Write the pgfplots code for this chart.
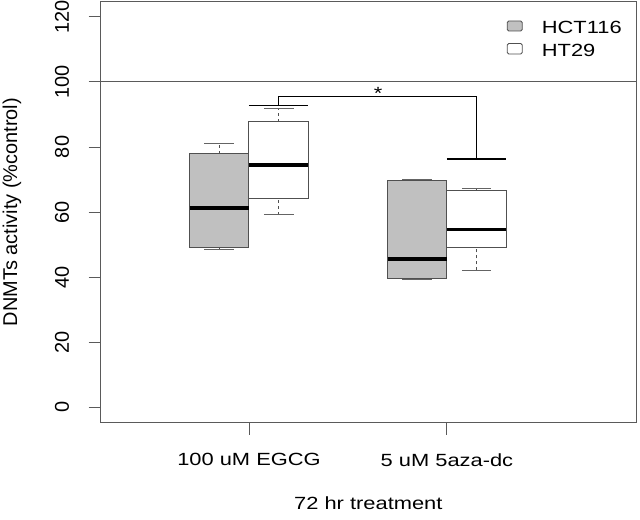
\documentclass[border=0pt]{standalone}
\usepackage{fontspec}
\setmainfont[FakeStretch=1.24]{Liberation Sans}
\newfontfamily\rotfont{Liberation Sans}
\usepackage{pgfplots}
\pgfplotsset{compat=1.18}

\definecolor{boxgray}{RGB}{192,192,192}
\definecolor{edge}{RGB}{80,80,80}
\definecolor{framec}{RGB}{90,90,90}
\definecolor{capc}{RGB}{100,100,100}

\newcommand{\tfont}{\fontsize{17.7}{21}\selectfont}
\newcommand{\rfont}{\rotfont\fontsize{20}{24}\selectfont}

\begin{document}
\begin{tikzpicture}
\useasboundingbox (0bp,0bp) rectangle (640bp,520bp);
\begin{axis}[
  at={(100.7bp,97.3bp)}, anchor=south west,
  scale only axis, width=535.3bp, height=421.4bp,
  xmin=0.251, xmax=2.955, ymin=-4.8, ymax=124.8,
  axis line style={framec, line width=0.9bp},
  tick pos=left,
  xtick={1,2}, xticklabels={100 uM EGCG, 5 uM 5aza-dc},
  ytick={0,20,40,60,80,100,120},
  tick align=outside, major tick length=12bp,
  tick style={framec, line width=0.9bp},
  /pgf/number format/assume math mode=true,
  yticklabel style={font=\rfont, rotate=90, anchor=south, inner sep=0pt},
  xticklabel style={font=\tfont, anchor=north, inner sep=0pt},
  xticklabel shift=18.6bp,
  yticklabel shift=19.4bp,
  ylabel={DNMTs activity (\%control)},
  xlabel={72 hr treatment},
  every axis y label/.style={font=\rfont, at={(axis description cs:-0.1657,0.5)}, rotate=90, anchor=center},
  every axis x label/.style={font=\tfont, at={(axis description cs:0.5,-0.1906)}, anchor=center},
  clip=false,
  stem/.style={edge, line width=1bp, dash pattern=on 3bp off 3bp},
  cap/.style={capc, line width=1bp},
  bx/.style={draw=edge, line width=1bp},
  med/.style={black, line width=3.7bp},
]
% reference line at 100 %
\addplot[framec, line width=0.9bp] coordinates {(0.251,100) (2.955,100)};

% ---- whisker stems (dashed) ----
\addplot[stem] coordinates {(0.85,77.96) (0.85,81.02)};
\addplot[stem] coordinates {(0.85,48.45) (0.85,49.07)};
\addplot[stem] coordinates {(1.15,87.76) (1.15,91.92)};
\addplot[stem] coordinates {(1.15,59.08) (1.15,64.28)};
\addplot[stem] coordinates {(1.85,69.79) (1.85,69.85)};
\addplot[stem] coordinates {(1.85,39.18) (1.85,39.58)};
\addplot[stem] coordinates {(2.15,66.73) (2.15,67.25)};
\addplot[stem] coordinates {(2.15,42.03) (2.15,49.07)};

% ---- whisker caps ----
\addplot[cap] coordinates {(0.775,81.02) (0.925,81.02)};
\addplot[cap] coordinates {(0.775,48.45) (0.925,48.45)};
\addplot[cap] coordinates {(1.075,91.92) (1.225,91.92)};
\addplot[cap] coordinates {(1.075,59.08) (1.225,59.08)};
\addplot[cap] coordinates {(1.775,69.85) (1.925,69.85)};
\addplot[cap] coordinates {(1.775,39.18) (1.925,39.18)};
\addplot[cap] coordinates {(2.075,67.25) (2.225,67.25)};
\addplot[cap] coordinates {(2.075,42.03) (2.225,42.03)};

% ---- boxes (lower quartile to upper quartile) ----
% HCT116, 100 uM EGCG
\addplot[bx, fill=boxgray] coordinates {(0.70,49.07) (1.00,49.07) (1.00,77.96) (0.70,77.96)} -- cycle;
% HT29, 100 uM EGCG
\addplot[bx, fill=white] coordinates {(1.00,64.28) (1.30,64.28) (1.30,87.76) (1.00,87.76)} -- cycle;
% HCT116, 5 uM 5aza-dc
\addplot[bx, fill=boxgray] coordinates {(1.70,39.58) (2.00,39.58) (2.00,69.79) (1.70,69.79)} -- cycle;
% HT29, 5 uM 5aza-dc
\addplot[bx, fill=white] coordinates {(2.00,49.07) (2.30,49.07) (2.30,66.73) (2.00,66.73)} -- cycle;

% ---- medians ----
\addplot[med] coordinates {(0.70,61.13) (1.00,61.13)};
\addplot[med] coordinates {(1.00,74.38) (1.30,74.38)};
\addplot[med] coordinates {(1.70,45.52) (2.00,45.52)};
\addplot[med] coordinates {(2.00,54.58) (2.30,54.58)};

% significance bracket
\addplot[black, line width=1.3bp] coordinates {(1.15,92.7) (1.15,95.5) (2.15,95.5) (2.15,76.3)};
\addplot[black, line width=1.3bp] coordinates {(1.0,92.7) (1.3,92.7)};
\addplot[black, line width=1.3bp] coordinates {(2.0,76.3) (2.3,76.3)};
\node[anchor=base, inner sep=0pt, font=\tfont] at (axis cs:1.652,94.7) {*};
\end{axis}

% legend
\draw[edge, fill=boxgray, line width=0.9bp, rounded corners=1.5bp] (507.2bp,489bp) rectangle (522.2bp,499bp);
\draw[edge, fill=white, line width=0.9bp, rounded corners=1.5bp] (507.2bp,466bp) rectangle (522.2bp,476.5bp);
\node[anchor=west, inner sep=0pt, font=\tfont] at (541.7bp,493bp) {HCT116};
\node[anchor=west, inner sep=0pt, font=\tfont] at (541.7bp,469.7bp) {HT29};
\end{tikzpicture}
\end{document}
